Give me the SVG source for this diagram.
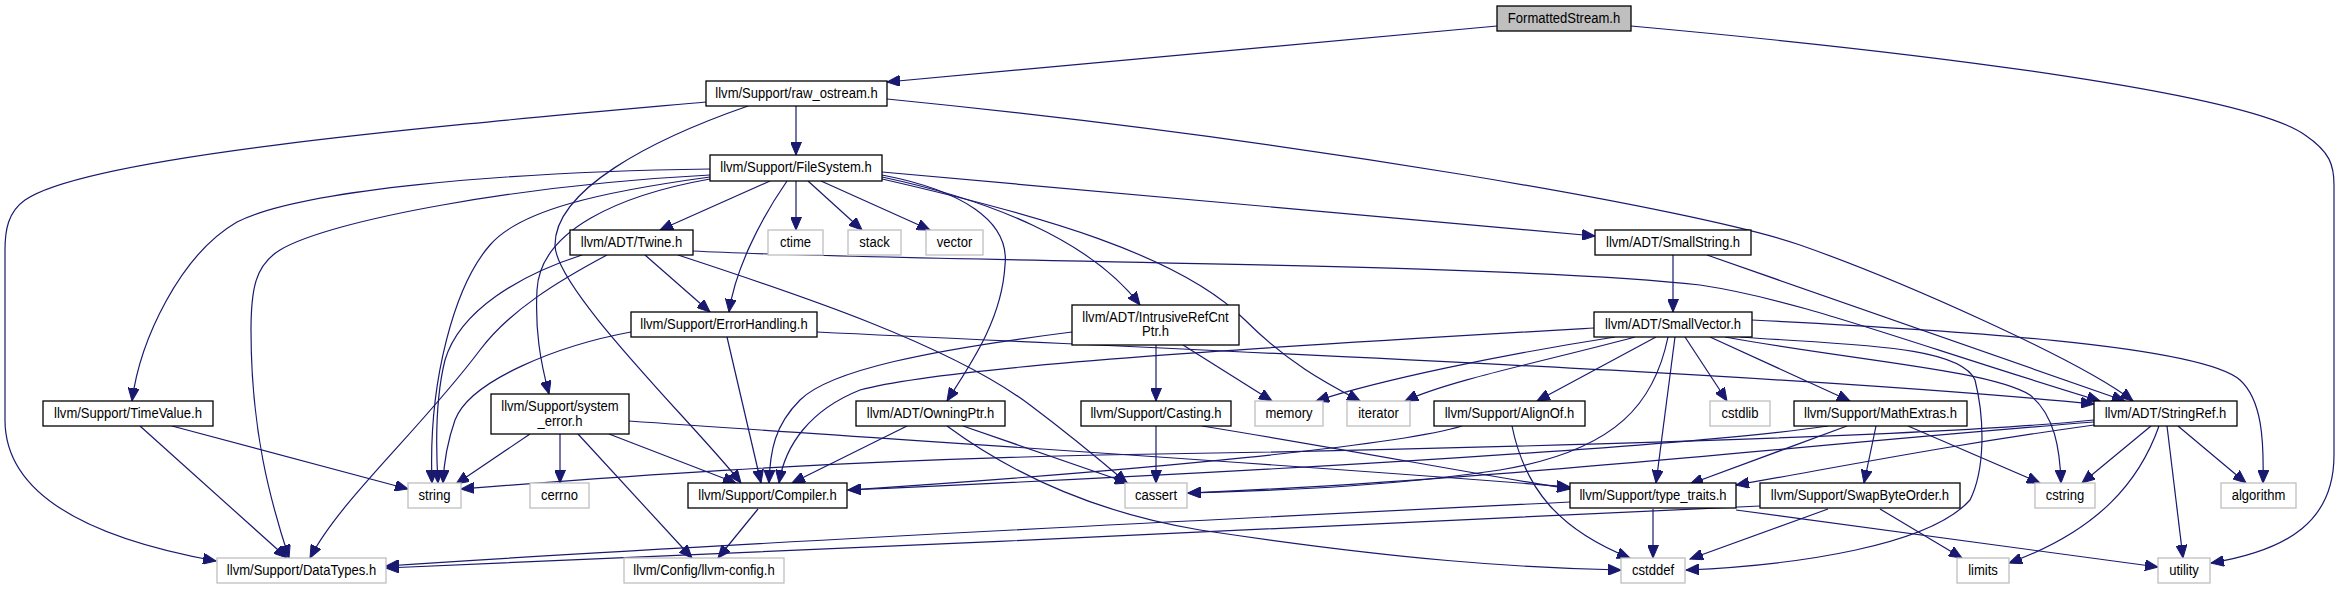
<svg xmlns="http://www.w3.org/2000/svg" width="2338" height="589" viewBox="0 0 2338 589">
<style>
.n rect{fill:#fff;stroke:#000;stroke-width:1.3}
.x rect{fill:#fff;stroke:#bfbfbf;stroke-width:1.3}
.r rect{fill:#bfbfbf;stroke:#000;stroke-width:1.3}
text{font-family:"Liberation Sans",Arial,Helvetica,sans-serif;font-size:14.5px;fill:#000;text-anchor:middle}
#edges path{fill:none;stroke:#191970;stroke-width:1.2;marker-end:url(#a)}
</style>
<defs>
<marker id="a" markerUnits="userSpaceOnUse" markerWidth="14" markerHeight="11" viewBox="0 0 14 11" refX="13" refY="5.5" orient="auto">
<path d="M0,0 L13,5.5 L0,11 z" fill="#191970" stroke="#191970" stroke-width="1"/>
</marker>
</defs>
<rect width="2338" height="589" fill="#fff"/>
<g id="edges">
<path d="M1497,26 L887,82"/>
<path d="M1631,26 C1950,55 2250,95 2305,135 C2330,152 2334,165 2334,185 L2334,455 C2334,520 2290,550 2211,563"/>
<path d="M796,106 L796,155"/>
<path d="M706,102 C450,125 90,155 25,200 C8,212 5,230 5,250 L5,420 C5,500 100,540 216,561"/>
<path d="M748,106 C650,140 555,190 555,245 C555,290 700,430 741,483"/>
<path d="M887,99 C1300,140 1700,210 1800,245 C1900,280 2080,360 2133,401"/>
<path d="M770,181 L660,230"/>
<path d="M796,181 L796,230"/>
<path d="M808,181 L862,230"/>
<path d="M821,181 L930,230"/>
<path d="M882,172 L1595,236"/>
<path d="M787,181 C760,220 735,270 729,312"/>
<path d="M882,177 C990,200 1090,240 1140,305"/>
<path d="M882,175 C960,190 1010,220 1005,265 C1002,320 970,365 947,401"/>
<path d="M882,179 C1040,215 1180,255 1245,320 C1290,365 1330,385 1360,401"/>
<path d="M710,179 C620,195 540,230 537,290 C535,330 540,360 549,394"/>
<path d="M710,169 C500,172 300,190 237,222 C180,255 140,340 132,401"/>
<path d="M710,175 C520,185 330,220 280,250 C255,265 251,290 251,330 C251,430 270,500 289,558"/>
<path d="M710,177 C600,192 520,210 490,245 C455,285 428,380 432,483"/>
<path d="M645,255 L710,312"/>
<path d="M582,255 C520,275 460,310 445,360 C435,400 436,450 438,483"/>
<path d="M607,255 C560,280 510,310 480,350 C420,430 340,500 310,558"/>
<path d="M678,255 C800,295 950,345 1030,405 C1070,435 1100,460 1127,483"/>
<path d="M693,251 C900,262 1500,262 1700,285 C1800,300 1900,340 2100,401"/>
<path d="M1673,255 L1673,312"/>
<path d="M1707,255 L2125,401"/>
<path d="M727,337 L761,483"/>
<path d="M631,332 C560,345 470,380 455,420 C448,440 444,460 443,483"/>
<path d="M817,332 C1300,355 1800,375 2094,404"/>
<path d="M1072,332 C930,350 830,370 800,400 C775,425 770,450 769,483"/>
<path d="M1156,345 L1156,401"/>
<path d="M1183,345 L1272,401"/>
<path d="M1594,328 C1300,345 950,365 860,390 C810,410 785,445 779,483"/>
<path d="M1615,337 C1500,355 1380,380 1316,401"/>
<path d="M1635,337 C1550,360 1450,380 1405,401"/>
<path d="M1656,337 L1537,401"/>
<path d="M1668,337 C1655,400 1620,450 1500,470 C1400,485 1300,490 1188,493"/>
<path d="M1675,337 L1656,483"/>
<path d="M1685,337 L1727,401"/>
<path d="M1710,337 L1850,401"/>
<path d="M1725,337 C1850,360 1990,370 2030,395 C2055,415 2060,450 2061,483"/>
<path d="M1752,320 C1950,330 2200,345 2240,380 C2262,400 2264,440 2263,483"/>
<path d="M1740,337 C1850,345 1960,345 1975,380 C1985,420 1985,470 1970,500 C1930,545 1800,565 1686,570"/>
<path d="M1828,426 C1700,445 1300,470 848,490"/>
<path d="M1847,426 L1690,484"/>
<path d="M1876,426 L1864,483"/>
<path d="M1908,426 L2040,483"/>
<path d="M2094,420 C1900,440 1300,452 1100,455 C800,462 600,478 461,489"/>
<path d="M2094,422 C1800,445 1500,480 1188,493"/>
<path d="M2094,425 C1950,445 1850,465 1736,485"/>
<path d="M2151,426 L2082,483"/>
<path d="M2159,426 C2140,480 2100,530 2009,563"/>
<path d="M2167,426 L2183,558"/>
<path d="M2178,426 L2246,483"/>
<path d="M1653,509 L1653,558"/>
<path d="M1570,502 C1200,520 700,545 386,566"/>
<path d="M1736,510 L2158,567"/>
<path d="M1760,506 C1400,522 800,552 386,568"/>
<path d="M1828,509 L1690,559"/>
<path d="M1880,509 L1962,558"/>
<path d="M907,426 L792,483"/>
<path d="M963,426 L1128,483"/>
<path d="M947,426 C1000,465 1080,510 1200,530 C1400,560 1520,568 1621,570"/>
<path d="M1462,426 C1400,445 1150,470 848,490"/>
<path d="M1512,426 C1525,490 1560,530 1630,558"/>
<path d="M530,434 L456,484"/>
<path d="M560,434 L560,483"/>
<path d="M609,434 L736,483"/>
<path d="M578,434 L692,558"/>
<path d="M629,421 C900,440 1300,465 1570,487"/>
<path d="M1202,426 C1350,450 1480,475 1570,489"/>
<path d="M1156,426 L1156,483"/>
<path d="M172,426 L408,489"/>
<path d="M140,426 L287,558"/>
<path d="M758,509 L718,558"/>
</g>
<g id="FormattedStream" class="r"><rect x="1497" y="6" width="134" height="25"/><text transform="scale(0.9,1)" x="1737.78" y="22.7">FormattedStream.h</text></g>
<g id="raw_ostream" class="n"><rect x="706" y="81" width="181" height="25"/><text transform="scale(0.9,1)" x="885" y="97.7">llvm/Support/raw_ostream.h</text></g>
<g id="FileSystem" class="n"><rect x="710" y="155" width="172" height="26"/><text transform="scale(0.9,1)" x="884.44" y="172.2">llvm/Support/FileSystem.h</text></g>
<g id="Twine" class="n"><rect x="570" y="230" width="123" height="25"/><text transform="scale(0.9,1)" x="701.67" y="246.7">llvm/ADT/Twine.h</text></g>
<g id="ctime" class="x"><rect x="768" y="230" width="55" height="25"/><text transform="scale(0.9,1)" x="883.89" y="246.7">ctime</text></g>
<g id="stack" class="x"><rect x="848" y="230" width="53" height="25"/><text transform="scale(0.9,1)" x="971.67" y="246.7">stack</text></g>
<g id="vector" class="x"><rect x="926" y="230" width="57" height="25"/><text transform="scale(0.9,1)" x="1060.56" y="246.7">vector</text></g>
<g id="SmallString" class="n"><rect x="1595" y="230" width="156" height="25"/><text transform="scale(0.9,1)" x="1858.89" y="246.7">llvm/ADT/SmallString.h</text></g>
<g id="ErrorHandling" class="n"><rect x="631" y="312" width="186" height="25"/><text transform="scale(0.9,1)" x="804.44" y="328.7">llvm/Support/ErrorHandling.h</text></g>
<g id="IntrusiveRefCntPtr" class="n"><rect x="1072" y="305" width="167" height="40"/><text transform="scale(0.9,1)" x="1283.89" y="322">llvm/ADT/IntrusiveRefCnt</text><text transform="scale(0.9,1)" x="1283.89" y="336">Ptr.h</text></g>
<g id="SmallVector" class="n"><rect x="1594" y="312" width="158" height="25"/><text transform="scale(0.9,1)" x="1858.89" y="328.7">llvm/ADT/SmallVector.h</text></g>
<g id="TimeValue" class="n"><rect x="43" y="401" width="170" height="25"/><text transform="scale(0.9,1)" x="142.22" y="417.7">llvm/Support/TimeValue.h</text></g>
<g id="system_error" class="n"><rect x="491" y="394" width="138" height="40"/><text transform="scale(0.9,1)" x="622.22" y="411.3">llvm/Support/system</text><text transform="scale(0.9,1)" x="622.22" y="426">_error.h</text></g>
<g id="OwningPtr" class="n"><rect x="856" y="401" width="149" height="25"/><text transform="scale(0.9,1)" x="1033.89" y="417.7">llvm/ADT/OwningPtr.h</text></g>
<g id="Casting" class="n"><rect x="1081" y="401" width="150" height="25"/><text transform="scale(0.9,1)" x="1284.44" y="417.7">llvm/Support/Casting.h</text></g>
<g id="memory" class="x"><rect x="1255" y="401" width="68" height="25"/><text transform="scale(0.9,1)" x="1432.22" y="417.7">memory</text></g>
<g id="iterator" class="x"><rect x="1347" y="401" width="63" height="25"/><text transform="scale(0.9,1)" x="1531.67" y="417.7">iterator</text></g>
<g id="AlignOf" class="n"><rect x="1434" y="401" width="151" height="25"/><text transform="scale(0.9,1)" x="1677.22" y="417.7">llvm/Support/AlignOf.h</text></g>
<g id="cstdlib" class="x"><rect x="1710" y="401" width="60" height="25"/><text transform="scale(0.9,1)" x="1933.33" y="417.7">cstdlib</text></g>
<g id="MathExtras" class="n"><rect x="1794" y="401" width="173" height="25"/><text transform="scale(0.9,1)" x="2089.44" y="417.7">llvm/Support/MathExtras.h</text></g>
<g id="StringRef" class="n"><rect x="2094" y="401" width="143" height="25"/><text transform="scale(0.9,1)" x="2406.11" y="417.7">llvm/ADT/StringRef.h</text></g>
<g id="string" class="x"><rect x="408" y="483" width="53" height="25"/><text transform="scale(0.9,1)" x="482.78" y="499.7">string</text></g>
<g id="cerrno" class="x"><rect x="530" y="483" width="59" height="25"/><text transform="scale(0.9,1)" x="621.67" y="499.7">cerrno</text></g>
<g id="Compiler" class="n"><rect x="688" y="483" width="159" height="25"/><text transform="scale(0.9,1)" x="852.78" y="499.7">llvm/Support/Compiler.h</text></g>
<g id="cassert" class="x"><rect x="1125" y="483" width="62" height="25"/><text transform="scale(0.9,1)" x="1284.44" y="499.7">cassert</text></g>
<g id="type_traits" class="n"><rect x="1570" y="483" width="166" height="25"/><text transform="scale(0.9,1)" x="1836.67" y="499.7">llvm/Support/type_traits.h</text></g>
<g id="SwapByteOrder" class="n"><rect x="1760" y="483" width="200" height="25"/><text transform="scale(0.9,1)" x="2066.67" y="499.7">llvm/Support/SwapByteOrder.h</text></g>
<g id="cstring" class="x"><rect x="2035" y="483" width="60" height="25"/><text transform="scale(0.9,1)" x="2294.44" y="499.7">cstring</text></g>
<g id="algorithm" class="x"><rect x="2221" y="483" width="75" height="25"/><text transform="scale(0.9,1)" x="2509.44" y="499.7">algorithm</text></g>
<g id="DataTypes" class="x"><rect x="217" y="558" width="169" height="25"/><text transform="scale(0.9,1)" x="335" y="574.7">llvm/Support/DataTypes.h</text></g>
<g id="llvm-config" class="x"><rect x="624" y="558" width="160" height="25"/><text transform="scale(0.9,1)" x="782.22" y="574.7">llvm/Config/llvm-config.h</text></g>
<g id="cstddef" class="x"><rect x="1621" y="558" width="64" height="25"/><text transform="scale(0.9,1)" x="1836.67" y="574.7">cstddef</text></g>
<g id="limits" class="x"><rect x="1957" y="558" width="52" height="25"/><text transform="scale(0.9,1)" x="2203.33" y="574.7">limits</text></g>
<g id="utility" class="x"><rect x="2158" y="558" width="52" height="25"/><text transform="scale(0.9,1)" x="2426.67" y="574.7">utility</text></g>
</svg>
